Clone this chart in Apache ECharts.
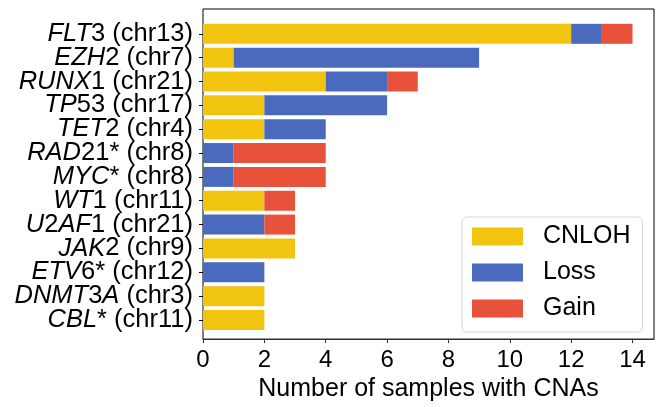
<!DOCTYPE html>
<html>
<head>
<meta charset="utf-8">
<script src="https://cdn.jsdelivr.net/npm/echarts@6/dist/echarts.min.js"></script>
<style>
html,body{margin:0;padding:0;background:#fff;}
#chart{width:657px;height:407px;}
</style>
</head>
<body>
<div id="chart"></div>
<script>
// ---- data ----
var genes = ['FLT3', 'EZH2', 'RUNX1', 'TP53', 'TET2', 'RAD21*', 'MYC*', 'WT1', 'U2AF1', 'JAK2', 'ETV6*', 'DNMT3A', 'CBL*'];
var chroms = ['chr13', 'chr7', 'chr21', 'chr17', 'chr4', 'chr8', 'chr8', 'chr11', 'chr21', 'chr9', 'chr12', 'chr3', 'chr11'];
var cnloh = [12, 1, 4, 2, 2, 0, 0, 2, 0, 3, 0, 2, 2];
var loss  = [1, 8, 2, 4, 2, 1, 1, 0, 2, 0, 2, 0, 0];
var gain  = [1, 0, 1, 0, 0, 3, 3, 1, 1, 0, 0, 0, 0];
var xTicks = [0, 2, 4, 6, 8, 10, 12, 14];
var seriesNames = ['CNLOH', 'Loss', 'Gain'];

var categories = genes.map(function (g, i) { return g + ' (' + chroms[i] + ')'; });

var FONT = "'Liberation Sans', Arial, Helvetica, sans-serif";
var FS = 25;
var FSY = 25.5;
var FST = 24;

function richLabel(v) {
  var sp = v.indexOf(' ');
  var gene = v.slice(0, sp), rest = v.slice(sp);
  var out = '';
  var parts = gene.match(/[A-Za-z]+|[^A-Za-z]+/g) || [];
  parts.forEach(function (p) {
    out += /[A-Za-z]/.test(p) ? '{i|' + p + '}' : '{n|' + p + '}';
  });
  return out + '{n|' + rest + '}';
}

var chart = echarts.init(document.getElementById('chart'), null, {renderer: 'canvas'});
var colors = ['#F1C40F', '#4A6BBD', '#E8523A'];
var vals = [cnloh, loss, gain];

chart.setOption({
  animation: false,
  textStyle: {fontFamily: FONT},
  grid: [
    {left: 203, right: 3, top: 9, bottom: 62, show: true, borderColor: '#000', borderWidth: 1, backgroundColor: 'transparent'},
    {left: 203, right: 3, top: 21.9, bottom: 75.1}
  ],
  xAxis: [
    {
      gridIndex: 0, type: 'value', min: 0, max: 14.7,
      name: 'Number of samples with CNAs', nameLocation: 'middle', nameGap: 35,
      nameTextStyle: {fontSize: FS, color: '#000', fontFamily: FONT},
      axisLine: {show: true, lineStyle: {color: '#333', width: 1}},
      axisTick: {show: true, length: 4, inside: false, customValues: xTicks, lineStyle: {color: '#333'}},
      axisLabel: {show: true, fontSize: FST, color: '#000', margin: 9, customValues: xTicks, fontFamily: FONT},
      splitLine: {show: false}
    },
    {gridIndex: 1, type: 'value', min: 0, max: 14.7, show: false}
  ],
  yAxis: [
    {gridIndex: 0, type: 'value', min: 0, max: 1, show: false},
    {
      gridIndex: 1, type: 'category', inverse: true, data: categories,
      axisLine: {show: false},
      axisTick: {show: true, alignWithLabel: true, interval: 0, length: 4, lineStyle: {color: '#000'}},
      axisLabel: {
        interval: 0, hideOverlap: false,
        fontSize: FSY, color: '#000', margin: 10, fontFamily: FONT,
        formatter: richLabel,
        rich: {
          i: {fontStyle: 'italic', fontSize: FSY, color: '#000', fontFamily: FONT},
          n: {fontStyle: 'normal', fontSize: FSY, color: '#000', fontFamily: FONT}
        }
      },
      splitLine: {show: false}
    }
  ],
  legend: {
    data: seriesNames,
    orient: 'vertical',
    left: 462, top: 217,
    icon: 'rect',
    itemWidth: 51, itemHeight: 18, itemGap: 11,
    padding: [7, 12, 11, 10],
    backgroundColor: '#fff',
    borderColor: '#d5d5d5', borderWidth: 1, borderRadius: 5,
    textStyle: {fontSize: FS, color: '#000', fontFamily: FONT, padding: [0, 0, 0, 15]}
  },
  series: seriesNames.map(function (n, k) {
    return {
      name: n, type: 'bar', stack: 'total',
      xAxisIndex: 1, yAxisIndex: 1,
      barWidth: 20,
      itemStyle: {color: colors[k]},
      data: vals[k]
    };
  })
});
</script>
</body>
</html>
